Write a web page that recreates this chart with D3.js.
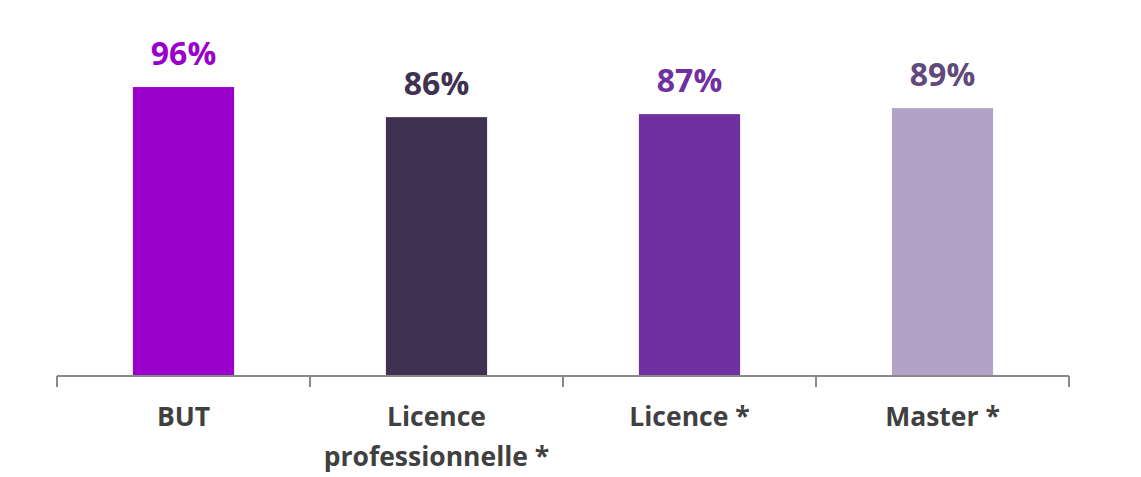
<!DOCTYPE html>
<html><head><meta charset="utf-8">
<script src="https://cdn.jsdelivr.net/npm/d3@7"></script>
<style>body{margin:0;background:#fff}svg{display:block}</style>
</head><body>
<svg id="c" width="1141" height="477"></svg>
<script>
const categories = ["BUT", "Licence professionnelle *", "Licence *", "Master *"];
const categoryLines = [["BUT"], ["Licence", "professionnelle *"], ["Licence *"], ["Master *"]];
const values = [96, 86, 87, 89];
const valueLabels = ["96%", "86%", "87%", "89%"];
const barColors = ["#9900CC", "#3F3151", "#7030A0", "#B2A2C7"];
const labelColors = ["#9900CC", "#3F3151", "#7030A0", "#604A7B"];

const svg = d3.select("#c");
const x = d3.scaleBand().domain(categories).range([57, 1069]).paddingInner(0.6).paddingOuter(0.3);
const y = d3.scaleLinear().domain([0, 100]).range([376, 75]);

svg.selectAll("rect.bar").data(values).join("rect")
  .attr("class", "bar")
  .attr("x", (d, i) => x(categories[i]))
  .attr("width", x.bandwidth())
  .attr("y", d => y(d))
  .attr("height", d => y(0) - y(d))
  .attr("fill", (d, i) => barColors[i]);

// axis
const half = (x.step() - x.bandwidth()) / 2;
const bounds = categories.map(c => x(c) - half).concat([x(categories[categories.length - 1]) + x.bandwidth() + half]);
svg.append("line").attr("x1", bounds[0]).attr("x2", bounds[bounds.length - 1])
  .attr("y1", y(0)).attr("y2", y(0)).attr("stroke", "#898989").attr("stroke-width", 2);
svg.selectAll("line.tick").data(bounds).join("line").attr("class", "tick")
  .attr("x1", d => Math.round(d) ).attr("x2", d => Math.round(d))
  .attr("y1", y(0)).attr("y2", y(0) + 11).attr("stroke", "#898989").attr("stroke-width", 2);

// value labels
svg.selectAll("text.val").data(values).join("text").attr("class", "val")
  .attr("x", (d, i) => x(categories[i]) + x.bandwidth() / 2)
  .attr("y", d => y(d) - 22)
  .attr("text-anchor", "middle")
  .attr("font-family", "'Open Sans', sans-serif").attr("font-weight", "bold").attr("font-size", 32)
  .attr("fill", (d, i) => labelColors[i])
  .text((d, i) => valueLabels[i]);

// category labels
const cl = svg.selectAll("text.cat").data(categories).join("text").attr("class", "cat")
  .attr("text-anchor", "middle")
  .attr("font-family", "'Open Sans', sans-serif").attr("font-weight", "bold").attr("font-size", 26.5)
  .attr("fill", "#404040");
cl.each(function (c, i) {
  const t = d3.select(this);
  categoryLines[i].forEach((ln, j) => {
    t.append("tspan").attr("x", x(c) + x.bandwidth() / 2).attr("y", 426 + j * 40).text(ln);
  });
});
</script>
</body></html>
